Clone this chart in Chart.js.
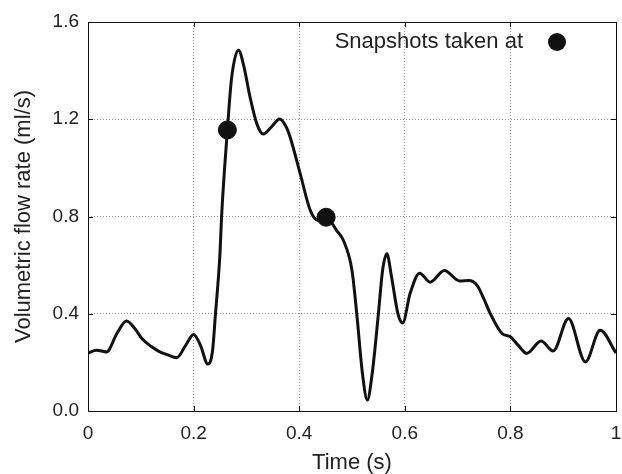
<!DOCTYPE html>
<html>
<head>
<meta charset="utf-8">
<script src="https://cdn.jsdelivr.net/npm/chart.js@4/dist/chart.umd.min.js"></script>
<style>
  html, body { margin: 0; padding: 0; background: #fff; }
  #wrap { width: 622px; height: 474px; }
</style>
</head>
<body>
<div id="wrap"><canvas id="flow-chart" width="622" height="474"></canvas></div>
<script>
  const times = [
    0.000, 0.016, 0.035, 0.055, 0.073, 0.090, 0.102, 0.120, 0.136, 0.150,
    0.168, 0.185, 0.200, 0.213, 0.227, 0.236, 0.241, 0.250, 0.253, 0.264,
    0.272, 0.285, 0.295, 0.307, 0.320, 0.332, 0.348, 0.363, 0.375, 0.383,
    0.402, 0.421, 0.436, 0.451, 0.471, 0.484, 0.500, 0.509, 0.520, 0.529,
    0.538, 0.550, 0.558, 0.566, 0.575, 0.587, 0.596, 0.610, 0.628, 0.648,
    0.675, 0.704, 0.721, 0.737, 0.750, 0.762, 0.784, 0.800, 0.815, 0.831,
    0.858, 0.881, 0.910, 0.942, 0.970, 1.000,
  ];
  const flows = [
    0.239, 0.250, 0.243, 0.320, 0.370, 0.335, 0.298, 0.265, 0.243, 0.232,
    0.219, 0.270, 0.315, 0.270, 0.193, 0.250, 0.387, 0.650, 0.800, 1.156,
    1.370, 1.484, 1.420, 1.290, 1.180, 1.139, 1.170, 1.201, 1.170, 1.125,
    0.975, 0.825, 0.784, 0.797, 0.742, 0.700, 0.578, 0.400, 0.150, 0.045,
    0.150, 0.400, 0.580, 0.647, 0.550, 0.400, 0.362, 0.483, 0.567, 0.530,
    0.578, 0.535, 0.537, 0.517, 0.460, 0.400, 0.319, 0.305, 0.270, 0.237,
    0.288, 0.247, 0.380, 0.202, 0.332, 0.239,
  ];
  const snapTimes = [0.264, 0.451];
  const snapFlows = [1.156, 0.797];
  const legendText = "Snapshots taken at";

  const FONT = "'Liberation Sans', Arial, Helvetica, sans-serif";
  const INK = "#111";

  // frame, inward tick marks and the in-plot legend
  const framePlugin = {
    id: "frame",
    afterDatasetsDraw(chart) {
      const { ctx, chartArea: a, scales } = chart;
      ctx.save();
      ctx.strokeStyle = INK;
      ctx.lineWidth = 1;
      ctx.beginPath();
      for (const t of scales.x.ticks) {
        const px = Math.round(scales.x.getPixelForValue(t.value)) + 0.5;
        ctx.moveTo(px, a.bottom); ctx.lineTo(px, a.bottom - 5);
        ctx.moveTo(px, a.top); ctx.lineTo(px, a.top + 5);
      }
      for (const t of scales.y.ticks) {
        const py = Math.round(scales.y.getPixelForValue(t.value)) + 0.5;
        ctx.moveTo(a.left, py); ctx.lineTo(a.left + 5, py);
        ctx.moveTo(a.right, py); ctx.lineTo(a.right - 5, py);
      }
      ctx.stroke();
      ctx.strokeRect(Math.round(a.left) + 0.5, Math.round(a.top) + 0.5,
        Math.round(a.right - a.left), Math.round(a.bottom - a.top));

      const cy = a.top + 20;
      ctx.fillStyle = "#222";
      ctx.font = `22px ${FONT}`;
      ctx.textAlign = "right";
      ctx.textBaseline = "middle";
      ctx.fillText(legendText, a.right - 93, cy);
      ctx.fillStyle = INK;
      ctx.beginPath();
      ctx.arc(a.right - 59, cy, 9, 0, Math.PI * 2);
      ctx.fill();
      ctx.restore();
    },
  };

  function fmtTick(value) {
    const v = Math.round(value * 10) / 10;
    return Number.isInteger(v) ? String(v) : v.toFixed(1);
  }

  new Chart(document.getElementById("flow-chart"), {
    type: "line",
    data: {
      datasets: [
        {
          label: "Volumetric flow rate",
          data: times.map((t, i) => ({ x: t, y: flows[i] })),
          borderColor: INK,
          borderWidth: 3,
          pointRadius: 0,
          cubicInterpolationMode: "monotone",
          order: 2,
        },
        {
          label: legendText,
          data: snapTimes.map((t, i) => ({ x: t, y: snapFlows[i] })),
          showLine: false,
          pointRadius: 9,
          pointBackgroundColor: INK,
          pointBorderColor: INK,
          order: 1,
        },
      ],
    },
    options: {
      responsive: false,
      animation: false,
      layout: { autoPadding: false, padding: { left: 0, right: 6, top: 22, bottom: 0 } },
      plugins: { legend: { display: false }, tooltip: { enabled: false } },
      scales: {
        x: {
          type: "linear",
          min: 0,
          max: 1,
          afterFit: (scale) => {
            scale.height = 63;
            scale.paddingLeft = 0;
            scale.paddingRight = 0;
          },
          ticks: {
            stepSize: 0.2,
            padding: 11,
            color: "#222",
            font: { family: FONT, size: 19 },
            callback: fmtTick,
            maxRotation: 0,
          },
          grid: { color: "#999", lineWidth: 1, drawTicks: false },
          border: { display: false, dash: [1, 2] },
          title: {
            display: true,
            text: "Time (s)",
            color: "#222",
            font: { family: FONT, size: 22 },
            padding: { top: 0, bottom: -2 },
          },
        },
        y: {
          min: 0,
          max: 1.6,
          afterFit: (scale) => { scale.width = 88; },
          ticks: {
            stepSize: 0.4,
            padding: 9,
            color: "#222",
            font: { family: FONT, size: 19 },
            callback: (v) => v.toFixed(1),
          },
          grid: { color: "#999", lineWidth: 1, drawTicks: false },
          border: { display: false, dash: [1, 2] },
          title: {
            display: true,
            text: "Volumetric flow rate (ml/s)",
            color: "#222",
            font: { family: FONT, size: 22 },
            padding: { top: 11, bottom: 0 },
          },
        },
      },
    },
    plugins: [framePlugin],
  });
</script>
</body>
</html>
